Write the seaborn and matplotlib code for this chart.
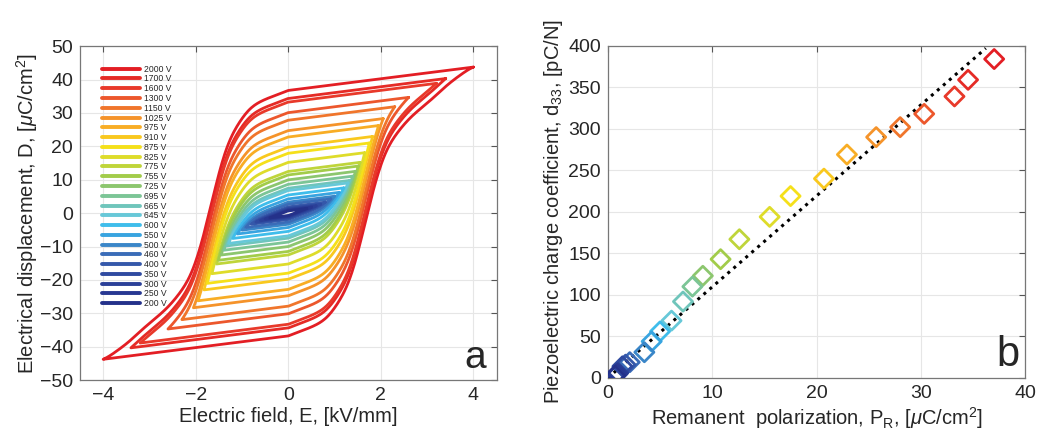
import numpy as np
import pandas as pd
import seaborn as sns
import matplotlib.pyplot as plt

# Applied voltages (legend order, highest first)
voltages = [2000, 1700, 1600, 1300, 1150, 1025, 975, 910, 875, 825, 775, 755, 725,
            695, 665, 645, 600, 550, 500, 460, 400, 350, 300, 250, 200]
# Remanent polarization (uC/cm2)
remanent_pol = [37.0, 34.5, 33.2, 30.3, 28.0, 25.7, 22.9, 20.7, 17.5, 15.5, 12.6, 10.8, 9.1,
                8.1, 7.2, 6.1, 5.0, 4.2, 3.5, 2.1, 1.7, 1.4, 1.0, 0.9, 0.7]
# Piezoelectric coefficient d33 (pC/N)
d33 = [384, 359, 339, 318, 302, 290, 269, 240, 219, 194, 167, 143, 123,
       110, 92, 69, 56, 44, 31, 19, 16, 14, 6, 5, 3]
line_colors = ['#e31e24', '#e52b26', '#e8392a', '#ec572c', '#f0752b', '#f5932a', '#f8ad25',
               '#f9c81e', '#f5e01a', '#dedc2a', '#bfd53a', '#a2cc4a', '#8cc66e', '#7cc596',
               '#6fc5bb', '#67c8d8', '#3fbdeb', '#38a4e0', '#3a86c8', '#3a6cb8', '#3558aa',
               '#2f4aa0', '#2b4098', '#283892', '#24318a']
# dotted reference line in panel b
fit_pr = [0, 36.2]
fit_d33 = [0, 397]

thickness_mm = 0.5      # 2000 V -> 4 kV/mm
k_lin = 1.75            # linear dielectric part, uC/cm2 per kV/mm
smooth_kv = 0.15        # smoothing width of the switching curve, kV/mm

labels = [f'{v} V' for v in voltages]
e_max = np.array(voltages) / 1000 / thickness_mm
order = np.argsort(e_max)
em_grid = np.r_[0, e_max[order], 6.0]
pr_grid = np.r_[0, np.array(remanent_pol)[order], remanent_pol[0]]

# switched polarization vs field amplitude, from the measured remanence, smoothed
x_fine = np.linspace(-6, 6, 2401)
f_raw = np.sign(x_fine) * np.interp(np.abs(x_fine), em_grid, pr_grid)
dx = x_fine[1] - x_fine[0]
kern_x = np.arange(-4 * smooth_kv, 4 * smooth_kv + dx, dx)
kern = np.exp(-0.5 * (kern_x / smooth_kv) ** 2)
kern /= kern.sum()
f_smooth = np.convolve(f_raw, kern, mode='same')


def switched(x):
    return np.interp(x, x_fine, f_smooth)


# build hysteresis loops (simple Preisach-like picture)
frames = []
for lab, em in zip(labels, e_max):
    e_down = np.linspace(em, -em, 400)
    d_down = k_lin * e_down + switched(em) - 2 * switched(np.clip(-e_down, 0, em))
    e_loop = np.r_[e_down, -e_down]
    d_loop = np.r_[d_down, -d_down]
    frames.append(pd.DataFrame({'E': e_loop, 'D': d_loop, 'label': lab}))
loops = pd.concat(frames, ignore_index=True)

points = pd.DataFrame({'Pr': remanent_pol, 'd33': d33, 'label': labels})

sns.set_style('whitegrid')
plt.rcParams['font.family'] = ['Liberation Sans', 'DejaVu Sans']
plt.rcParams['mathtext.fontset'] = 'custom'
plt.rcParams['mathtext.rm'] = 'Liberation Sans'
plt.rcParams['mathtext.it'] = 'Liberation Sans:italic'

fig = plt.figure(figsize=(10.39, 4.4), dpi=100)
ax1 = fig.add_axes([0.077, 0.136, 0.401, 0.759])
ax2 = fig.add_axes([0.585, 0.141, 0.402, 0.755])

palette = dict(zip(labels, line_colors))

# Panel a: loops
sns.lineplot(data=loops, x='E', y='D', hue='label', hue_order=labels, palette=palette,
             sort=False, estimator=None, units='label', lw=2, ax=ax1)
handles, labs = ax1.get_legend_handles_labels()
leg = ax1.legend(handles, labs, loc='upper left', bbox_to_anchor=(0.045, 0.955),
                 fontsize=6.2, handlelength=4.4, handletextpad=0.4, labelspacing=0.09,
                 frameon=False, borderaxespad=0)
for h in leg.get_lines():
    h.set_linewidth(2.8)

ax1.set_xlim(-4.5, 4.5)
ax1.set_ylim(-50, 50)
ax1.set_xticks([-4, -2, 0, 2, 4])
ax1.set_yticks(range(-50, 51, 10))
ax1.set_xlabel('Electric field, E, [kV/mm]', fontsize=14.5, labelpad=2)
ax1.set_ylabel(r'Electrical displacement, D, [$\mu$C/cm$^2$]', fontsize=14.5, labelpad=0)
ax1.text(0.975, 0.035, 'a', transform=ax1.transAxes, ha='right', va='baseline', fontsize=28)

# Panel b: d33 vs remanent polarization
sns.lineplot(x=fit_pr, y=fit_d33, color='black', ls=(0, (1, 1.6)), lw=2.2, ax=ax2)
sns.scatterplot(data=points, x='Pr', y='d33', hue='label', hue_order=labels, palette=palette,
                marker='D', s=95, legend=False, ax=ax2, zorder=3)
pts = ax2.collections[-1]
pts.set_edgecolors(pts.get_facecolors())
pts.set_facecolors('none')
pts.set_linewidth(2)

ax2.set_xlim(0, 40)
ax2.set_ylim(0, 400)
ax2.set_xticks(range(0, 41, 10))
ax2.set_yticks(range(0, 401, 50))
ax2.set_xlabel(r'Remanent  polarization, P$_\mathrm{R}$, [$\mu$C/cm$^2$]', fontsize=14.5,
               labelpad=2)
ax2.set_ylabel(r'Piezoelectric charge coefficient, d$_{33}$, [pC/N]', fontsize=14.5, labelpad=2)
ax2.text(0.985, 0.035, 'b', transform=ax2.transAxes, ha='right', va='baseline', fontsize=30)

for ax in (ax1, ax2):
    ax.grid(True, color='#e6e6e6', lw=0.8)
    ax.tick_params(direction='in', top=True, right=True, length=4, width=0.8,
                   color='#555555', labelsize=14, pad=5)
    for sp in ax.spines.values():
        sp.set_color('#777777')
        sp.set_linewidth(0.9)

fig.savefig('out.png', dpi=100)
